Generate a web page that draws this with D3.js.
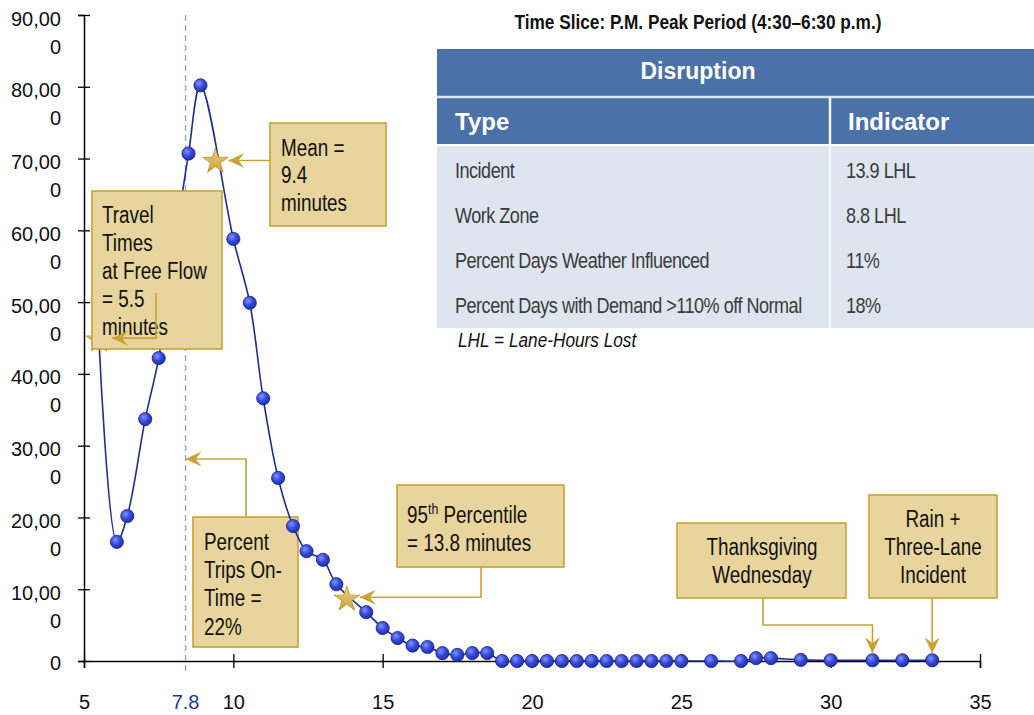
<!DOCTYPE html>
<html><head><meta charset="utf-8">
<script src="https://cdn.jsdelivr.net/npm/d3@7"></script>
<style>
body{margin:0;background:#fff;}
svg{display:block;}
</style></head><body>
<svg id="chart" width="1034" height="715"></svg>
<script>
// ---------------- data ----------------
const travelTimes = [5.5, 6.1, 6.45, 7.05, 7.5, 8.0, 8.5, 8.9, 10.0, 10.55, 11.0, 11.5, 12.0, 12.45, 13.0, 13.45, 14.45, 15.0, 15.5, 16.0, 16.5, 17.0, 17.5, 18.0, 18.5, 19.0, 19.5, 20.0, 20.5, 21.0, 21.5, 22.0, 22.5, 23.0, 23.5, 24.0, 24.5, 25.0, 26.0, 27.0, 27.5, 28.0, 29.0, 30.0, 31.4, 32.4, 33.4];
const frequencies = [44700, 16600, 20200, 33700, 42200, 57000, 70700, 80200, 58800, 49900, 36600, 25500, 18800, 15300, 14100, 10700, 6800, 4600, 3200, 2150, 1950, 1100, 850, 1100, 1100, 0, 0, 0, 0, 0, 0, 0, 0, 0, 0, 0, 0, 0, 0, 0, 400, 400, 150, 100, 100, 100, 100];
const xTicks = [5, 10, 15, 20, 25, 30, 35];
const yTicks = [0, 10000, 20000, 30000, 40000, 50000, 60000, 70000, 80000, 90000];
const thresholdValue = 8.4;      // where the on-time threshold line is drawn
const thresholdLabel = "7.8";
const starX = [5.5, 9.4, 13.8];
const starY = [44700, 69600, 8600];
const chartTitle = "Time Slice: P.M. Peak Period (4:30\u20136:30 p.m.)";
const tableTitle = "Disruption";
const tableHeaders = ["Type", "Indicator"];
const disruptionTypes = ["Incident", "Work Zone", "Percent Days Weather Influenced", "Percent Days with Demand >110% off Normal"];
const disruptionIndicators = ["13.9 LHL", "8.8 LHL", "11%", "18%"];
const tableNote = "LHL = Lane-Hours Lost";

// ---------------- setup ----------------
const svg = d3.select("#chart");
const x = d3.scaleLinear().domain([5, 35]).range([84, 980]);
const y = d3.scaleLinear().domain([0, 90000]).range([661, 15]);
const NARROW = "'Liberation Sans Narrow','Arial Narrow','Liberation Sans',Arial,sans-serif";
const SANS = "'Liberation Sans',Arial,sans-serif";
const GOLD = "#c9a235", BOXFILL = "#e8d59d", BOXSTROKE = "#c9a235";

const defs = svg.append("defs");
const rg = defs.append("radialGradient").attr("id", "ball").attr("cx", "38%").attr("cy", "35%").attr("r", "65%");
rg.append("stop").attr("offset", "0%").attr("stop-color", "#8094ff");
rg.append("stop").attr("offset", "55%").attr("stop-color", "#3649d8");
rg.append("stop").attr("offset", "100%").attr("stop-color", "#2030b2");
const sg = defs.append("linearGradient").attr("id", "starg").attr("x1", "0").attr("y1", "0").attr("x2", "0").attr("y2", "1");
sg.append("stop").attr("offset", "0%").attr("stop-color", "#ecd17e");
sg.append("stop").attr("offset", "100%").attr("stop-color", "#c9a13c");
defs.append("marker").attr("id", "arr").attr("viewBox", "-17 -8 18 16")
  .attr("refX", 0).attr("refY", 0).attr("markerWidth", 18).attr("markerHeight", 16)
  .attr("markerUnits", "userSpaceOnUse").attr("orient", "auto")
  .append("path").attr("d", "M0,0 L-16,-7.5 L-10,0 L-16,7.5 Z").attr("fill", GOLD);

// ---------------- helpers ----------------
function box(x0, y0, x1, y1) {
  svg.append("rect").attr("x", x0).attr("y", y0).attr("width", x1 - x0).attr("height", y1 - y0)
    .attr("fill", BOXFILL).attr("stroke", BOXSTROKE).attr("stroke-width", 1.6);
}
function lines(arr, xx, centers, anchor) {
  arr.forEach((s, i) => {
    svg.append("text").attr("class", "narrow").attr("x", xx).attr("y", centers[i] + 8)
      .attr("text-anchor", anchor || "start").attr("font-family", NARROW).attr("font-size", 23)
      .attr("fill", "#111").text(s);
  });
}
function conn(points) {
  svg.append("path").attr("d", d3.line()(points)).attr("fill", "none")
    .attr("stroke", GOLD).attr("stroke-width", 1.6).attr("marker-end", "url(#arr)");
}

// ---------------- axes ----------------
const xAxis = svg.append("g").attr("transform", `translate(0,${y(0)})`)
  .call(d3.axisBottom(x).tickValues(xTicks).tickSizeOuter(0).tickSize(7).tickFormat(d3.format("d")));
xAxis.select(".domain").attr("stroke", "#000").attr("stroke-width", 1.5);
xAxis.selectAll(".tick line").attr("y1", -7).attr("y2", 7).attr("stroke", "#000").attr("stroke-width", 1.3);
xAxis.selectAll(".tick text").attr("y", 48).attr("dy", null).attr("font-family", SANS).attr("font-size", 20).attr("fill", "#111");

const yAxis = svg.append("g").attr("transform", `translate(${x(5)},0)`)
  .call(d3.axisLeft(y).tickValues(yTicks).tickSizeOuter(0).tickSize(6).tickFormat(""));
yAxis.select(".domain").attr("stroke", "#000").attr("stroke-width", 1.5);
yAxis.selectAll(".tick line").attr("x1", -6).attr("x2", 6).attr("stroke", "#000").attr("stroke-width", 1.3);
yAxis.selectAll(".tick").each(function(d) {
  const s = d3.format(",")(d);
  const t = d3.select(this).append("text").attr("font-family", SANS).attr("font-size", 20)
    .attr("fill", "#111").attr("text-anchor", "end").attr("x", -23);
  if (s.length > 1) {
    t.append("tspan").attr("x", -23).attr("y", 10).text(s.slice(0, -1));
    t.append("tspan").attr("x", -23).attr("y", 38).text(s.slice(-1));
  } else {
    t.append("tspan").attr("x", -23).attr("y", 8).text(s);
  }
});

// threshold line & label
svg.append("line").attr("x1", x(thresholdValue)).attr("x2", x(thresholdValue))
  .attr("y1", y(90000)).attr("y2", y(0) + 11)
  .attr("stroke", "#8eaad2").attr("stroke-width", 1.4).attr("stroke-dasharray", "6,4");
svg.append("text").attr("x", x(thresholdValue)).attr("y", y(0) + 48).attr("text-anchor", "middle")
  .attr("font-family", SANS).attr("font-size", 20).attr("fill", "#22388f").text(thresholdLabel);

// on-time box sits beneath the series
box(193, 517, 298, 647);

// ---------------- series ----------------
const pts = travelTimes.map((t, i) => [t, frequencies[i]]);
svg.append("path").datum(pts)
  .attr("d", d3.line().x(d => x(d[0])).y(d => y(d[1])).curve(d3.curveCatmullRom.alpha(0.5)))
  .attr("fill", "none").attr("stroke", "#1d2c96").attr("stroke-width", 1.6);
svg.append("g").selectAll("circle").data(pts).join("circle")
  .attr("cx", d => x(d[0])).attr("cy", d => y(d[1])).attr("r", 6.6)
  .attr("fill", "url(#ball)").attr("stroke", "#1a2380").attr("stroke-width", 0.8);

// stars
const star = d3.symbol().type(d3.symbolStar).size(200);
svg.append("g").selectAll("path").data(starX.map((v, i) => [v, starY[i]])).join("path")
  .attr("d", star).attr("transform", d => `translate(${x(d[0])},${y(d[1])})`)
  .attr("fill", "url(#starg)").attr("stroke", "#b8912f").attr("stroke-width", 0.8);

// ---------------- annotations ----------------
// free flow
box(92, 191, 222, 349);
lines(["Travel", "Times", "at Free Flow", "= 5.5", "minutes"], 102, [215, 243, 271, 299, 327]);
conn([[156, 293], [156, y(starY[0]) - 2], [x(starX[0]) + 13, y(starY[0]) - 2]]);

// mean
box(270, 123, 386, 226);
lines(["Mean =", "9.4", "minutes"], 281, [148, 175, 203]);
conn([[270, y(starY[1]) - 1], [x(starX[1]) + 13, y(starY[1]) - 1]]);

// on-time text
lines(["Percent", "Trips On-", "Time =", "22%"], 204, [542, 570, 598, 627]);
conn([[246, 517], [246, 459], [x(thresholdValue), 459]]);

// 95th
box(397, 485, 564, 567);
const t95 = svg.append("text").attr("class", "narrow").attr("x", 407).attr("y", 515 + 8)
  .attr("font-family", NARROW).attr("font-size", 23).attr("fill", "#111");
t95.append("tspan").text("95");
t95.append("tspan").attr("dy", -9).attr("font-size", 15).text("th");
t95.append("tspan").attr("dy", 9).text(" Percentile");
lines(["= 13.8 minutes"], 407, [543]);
conn([[481, 567], [481, y(starY[2]) - 2], [x(starX[2]) + 13, y(starY[2]) - 2]]);

// Thanksgiving
box(677, 523, 846, 598);
lines(["Thanksgiving", "Wednesday"], 762, [547, 575], "middle");
conn([[763, 598], [763, 625], [x(31.4), 625], [x(31.4), y(100) - 7]]);

// Rain
box(869, 495, 997, 598);
lines(["Rain +", "Three-Lane", "Incident"], 933, [519, 547, 575], "middle");
conn([[x(33.4), 598], [x(33.4), y(100) - 7]]);

// ---------------- title & table ----------------
svg.append("text").attr("class", "narrow").attr("x", 698).attr("y", 29).attr("text-anchor", "middle")
  .attr("font-family", NARROW).attr("font-weight", "bold").attr("font-size", 21).attr("fill", "#111")
  .text(chartTitle);

const T = {left: 437, right: 1040, top: 49, h1: 98, h2: 145, bottom: 328, div: 830};
svg.append("rect").attr("x", T.left).attr("y", T.top).attr("width", T.right - T.left).attr("height", T.h2 - T.top).attr("fill", "#4a71a8");
svg.append("rect").attr("x", T.left).attr("y", T.h2).attr("width", T.right - T.left).attr("height", T.bottom - T.h2).attr("fill", "#dfe5ef");
svg.append("line").attr("x1", T.left).attr("x2", T.right).attr("y1", T.h1 - 1).attr("y2", T.h1 - 1).attr("stroke", "#dfe6f1").attr("stroke-width", 2.5);
svg.append("line").attr("x1", T.left).attr("x2", T.right).attr("y1", T.h2).attr("y2", T.h2).attr("stroke", "#ffffff").attr("stroke-width", 2);
svg.append("line").attr("x1", T.div).attr("x2", T.div).attr("y1", T.h1).attr("y2", T.bottom).attr("stroke", "#f4f6fa").attr("stroke-width", 2.5);
svg.append("text").attr("x", 698).attr("y", 79).attr("text-anchor", "middle").attr("font-family", SANS)
  .attr("font-weight", "bold").attr("font-size", 23).attr("fill", "#fff").text(tableTitle);
svg.append("text").attr("x", 455).attr("y", 130).attr("font-family", SANS)
  .attr("font-weight", "bold").attr("font-size", 24).attr("fill", "#fff").text(tableHeaders[0]);
svg.append("text").attr("x", 848).attr("y", 130).attr("font-family", SANS)
  .attr("font-weight", "bold").attr("font-size", 24).attr("fill", "#fff").text(tableHeaders[1]);
const rowCenters = [170, 215, 260, 305];
disruptionTypes.forEach((s, i) => {
  svg.append("text").attr("class", "narrow tbl").attr("x", 455).attr("y", rowCenters[i] + 8)
    .attr("font-family", NARROW).attr("font-size", 22).attr("fill", "#3b3b3b").attr("letter-spacing", -0.6).text(s);
  svg.append("text").attr("class", "narrow tbl").attr("x", 846).attr("y", rowCenters[i] + 8)
    .attr("font-family", NARROW).attr("font-size", 22).attr("fill", "#3b3b3b").attr("letter-spacing", -0.6).text(disruptionIndicators[i]);
});
svg.append("text").attr("class", "narrow").attr("x", 458).attr("y", 347).attr("font-family", NARROW)
  .attr("font-style", "italic").attr("font-size", 21).attr("fill", "#111").text(tableNote);

// fallback: if no narrow font is installed, compress narrow texts horizontally
(function() {
  const a = svg.append("text").attr("font-family", NARROW).attr("font-size", 40).text("at Free Flow Wednesday");
  const b = svg.append("text").attr("font-family", SANS).attr("font-size", 40).text("at Free Flow Wednesday");
  const wa = a.node().getComputedTextLength(), wb = b.node().getComputedTextLength();
  a.remove(); b.remove();
  if (Math.abs(wa - wb) < 1) {
    svg.selectAll("text.narrow").each(function() {
      const L = this.getComputedTextLength();
      d3.select(this).attr("textLength", L * 0.82).attr("lengthAdjust", "spacingAndGlyphs");
    });
  }
})();
</script>
</body></html>
